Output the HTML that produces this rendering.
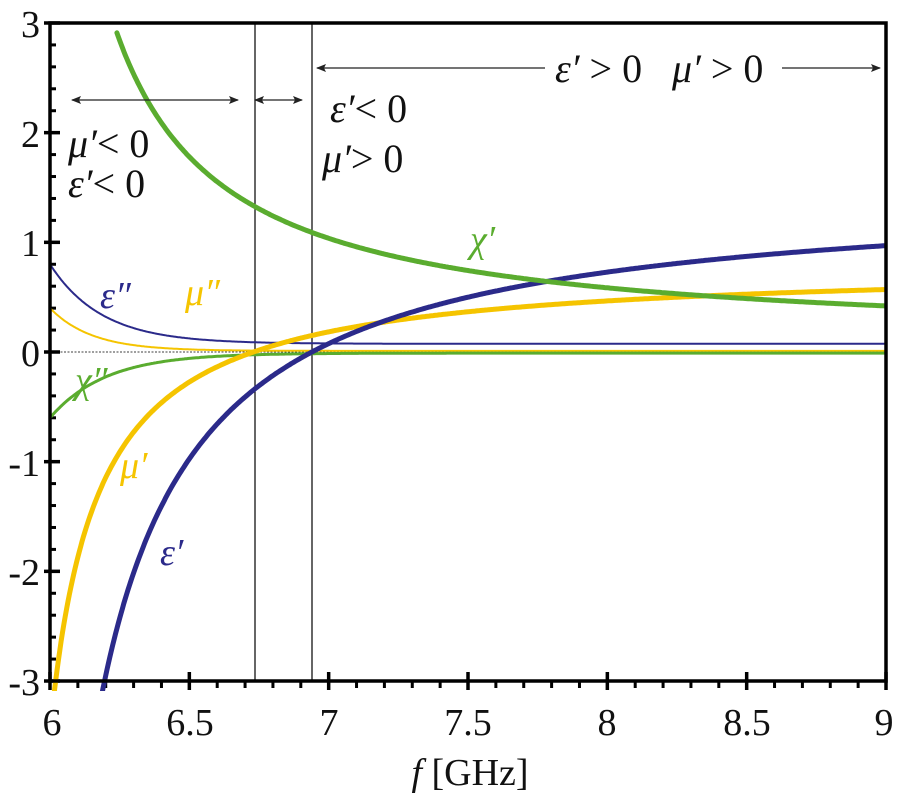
<!DOCTYPE html>
<html><head><meta charset="utf-8"><style>
html,body{margin:0;padding:0;background:#fff;width:900px;height:800px;overflow:hidden}
svg{display:block}
text{font-family:"Liberation Serif","DejaVu Serif",serif;fill:#111}
.it{font-style:italic}
</style></head><body>
<svg id="s" width="900" height="800" viewBox="0 0 900 800" xmlns="http://www.w3.org/2000/svg">
<defs>
<marker id="ah" markerWidth="10" markerHeight="8" refX="9" refY="4" orient="auto" markerUnits="userSpaceOnUse"><path d="M0,0 L10,4 L0,8 L2,4 Z" fill="#222"/></marker>
<marker id="at" markerWidth="10" markerHeight="8" refX="1" refY="4" orient="auto" markerUnits="userSpaceOnUse"><path d="M10,0 L0,4 L10,8 L8,4 Z" fill="#222"/></marker>
<clipPath id="cp"><rect x="50" y="23" width="836" height="668"/></clipPath>
</defs>
<g id="ticks" stroke="#000" stroke-width="3"></g>
<line x1="50" y1="352" x2="886" y2="352" stroke="#000" stroke-width="0.8" stroke-dasharray="2,1.5"/>
<line x1="255" y1="23" x2="255" y2="681" stroke="#000" stroke-width="1.2"/>
<line x1="312" y1="23" x2="312" y2="681" stroke="#000" stroke-width="1.2"/>
<g id="curves" clip-path="url(#cp)" fill="none" stroke-linecap="round"></g>
<rect x="50" y="23" width="836" height="658" fill="none" stroke="#000" stroke-width="3.5"/>
<line x1="72" y1="100" x2="238" y2="100" stroke="#222" stroke-width="1.3" marker-start="url(#at)" marker-end="url(#ah)"/>
<line x1="255" y1="100" x2="302" y2="100" stroke="#222" stroke-width="1.3" marker-start="url(#at)" marker-end="url(#ah)"/>
<line x1="317" y1="68" x2="545" y2="68" stroke="#222" stroke-width="1.3" marker-start="url(#at)"/>
<line x1="782" y1="68" x2="880" y2="68" stroke="#222" stroke-width="1.3" marker-end="url(#ah)"/>
<g font-size="40">
<text x="555" y="82"><tspan class="it">ε′</tspan> &gt; 0</text>
<text x="672" y="82"><tspan class="it">μ′</tspan> &gt; 0</text>
<text x="68" y="157"><tspan class="it">μ′</tspan>&lt; 0</text>
<text x="68" y="197"><tspan class="it">ε′</tspan>&lt; 0</text>
<text x="330" y="122"><tspan class="it">ε′</tspan>&lt; 0</text>
<text x="322" y="172"><tspan class="it">μ′</tspan>&gt; 0</text>
</g>
<g font-size="38" class="it">
<text x="100" y="308" style="fill:#2b2a8a">ε″</text>
<text x="185" y="305" style="fill:#f5c400">μ″</text>
<text x="470" y="252" style="fill:#5aac2f">χ′</text>
<text x="75" y="393" style="fill:#5aac2f">χ″</text>
<text x="120" y="478" style="fill:#f5c400">μ′</text>
<text x="160" y="565" style="fill:#2b2a8a">ε′</text>
</g>
<g font-size="38" text-anchor="end">
<text x="40" y="37">3</text><text x="40" y="147">2</text><text x="40" y="256">1</text>
<text x="40" y="366">0</text><text x="40" y="476">-1</text><text x="40" y="585">-2</text><text x="40" y="695">-3</text>
</g>
<g font-size="38" text-anchor="middle">
<text x="52" y="735">6</text><text x="190" y="735">6.5</text><text x="329" y="735">7</text>
<text x="468" y="735">7.5</text><text x="607" y="735">8</text><text x="747" y="735">8.5</text><text x="884" y="735">9</text>
<text x="470" y="785"><tspan class="it">f</tspan> [GHz]</text>
</g>
</svg>
<script>
var X=f=>50+(f-6)*278.67, Y=v=>352-v*109.67;
var ns="http://www.w3.org/2000/svg";
var t=document.getElementById("ticks"),c=document.getElementById("curves");
function L(x1,y1,x2,y2,w){var l=document.createElementNS(ns,"line");l.setAttribute("x1",x1);l.setAttribute("y1",y1);l.setAttribute("x2",x2);l.setAttribute("y2",y2);l.setAttribute("stroke-width",w);t.appendChild(l);}
for(var i=0;i<=30;i++){var x=X(6+i*0.1);if(i%5==0)L(x,672,x,690,3.5);else L(x,681,x,688,3);}
for(var i=0;i<=30;i++){var y=Y(-3+i*0.2);if(i%5==0)L(44,y,60,y,3.5);else L(50,y,56,y,3);}
function P(fn,f0,f1,col,w){var d="";for(var f=f0;f<=f1+1e-9;f+=0.005){var v=fn(f);if(v<-3.4)v=-3.4;d+=(d?"L":"M")+X(f).toFixed(1)+","+Y(v).toFixed(1);}
var p=document.createElementNS(ns,"path");p.setAttribute("d",d);p.setAttribute("stroke",col);p.setAttribute("stroke-width",w);p.setAttribute("fill","none");c.appendChild(p);}
var B="#2b2a8a",Yl="#f5c400",G="#5aac2f";
P(f=>0.075+0.725*Math.exp(-(f-6)/0.185),6,9,B,2);
P(f=>0.01+0.39*Math.exp(-(f-6)/0.15),6,9,Yl,2);
P(f=>-0.01-0.59*Math.exp(-(f-6)/0.2),6,9,G,3);
P(f=>0.795-0.714/(f-5.832),6.0,9,Yl,5);
P(f=>1.495-1.667/(f-5.825),6.17,9,B,5);
P(f=>0.064+1.123/(f-5.8455),6.24,9,G,5);
</script>
</body></html>
